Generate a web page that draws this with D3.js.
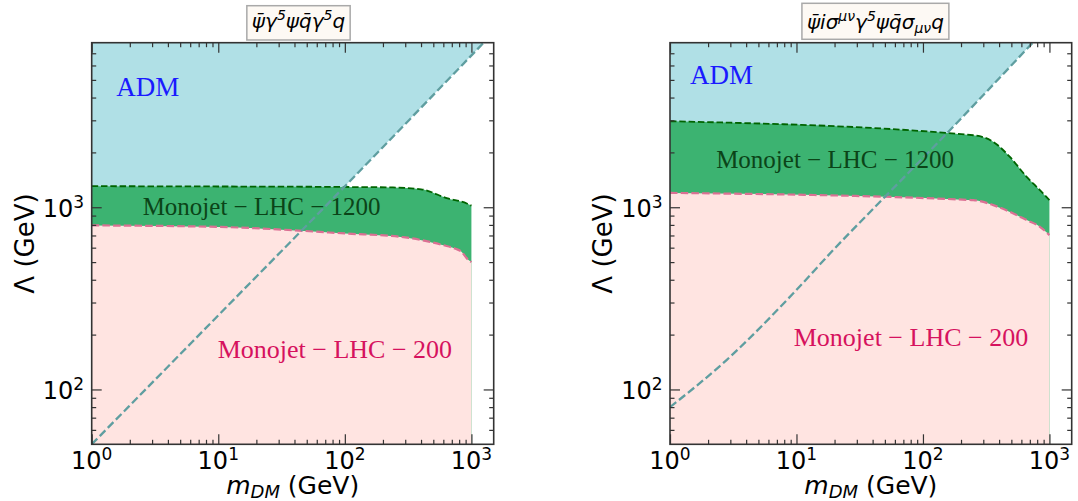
<!DOCTYPE html>
<html>
<head>
<meta charset="utf-8">
<script src="https://cdn.jsdelivr.net/npm/d3@7"></script>
<style>
  body { margin: 0; background: #fff; }
</style>
</head>
<body>
<div id="wrapper"></div>
<script>
// values

const massTicks = [1, 10, 100, 1000]
const massTickExponents = ["0", "1", "2", "3"]
const massMinorTicks = [2, 3, 4, 5, 6, 7, 8, 9, 20, 30, 40, 50, 60, 70, 80, 90, 200, 300, 400, 500, 600, 700, 800, 900]
const lambdaTicks = [100, 1000]
const lambdaTickExponents = ["2", "3"]
const lambdaMinorTicks = [60, 70, 80, 90, 200, 300, 400, 500, 600, 700, 800, 900, 2000, 3000, 4000, 5000, 6000, 7000]

// left panel
const admLeftMass = [1, 10, 69, 1250]
const admLeftLambda = [50, 255, 1000, 8000]
const lhc1200LeftMass = [1, 10, 100, 240, 400, 650, 920, 1000]
const lhc1200LeftLambda = [1305, 1300, 1292, 1284, 1255, 1118, 1049, 1020]
const lhc200LeftMass = [1, 10, 100, 300, 600, 740, 835, 920, 1000]
const lhc200LeftLambda = [795, 780, 718, 683, 619, 594, 570, 524, 500]

// right panel
const admRightMass = [1, 2.8, 9.4, 19.5, 50, 154, 737]
const admRightLambda = [80, 145, 336, 582, 1140, 2540, 8000]
const lhc1200RightMass = [1, 250, 360, 487, 661, 841, 1000]
const lhc1200RightLambda = [2965, 2484, 2285, 1888, 1468, 1241, 1094]
const lhc200RightMass = [1, 250, 360, 487, 661, 841, 1000]
const lhc200RightLambda = [1199, 1094, 1027, 943, 850, 781, 703]

// titles, pieces are [text, kind]
const leftTitle = [["ψ̄γ", ""], ["5", "sup"], ["ψq̄γ", ""], ["5", "sup"], ["q", ""]]
const rightTitle = [["ψ̄iσ", ""], ["μν", "sup"], ["γ", ""], ["5", "sup"], ["ψq̄σ", ""], ["μν", "sub"], ["q", ""]]

const zip = (xs, ys) => xs.map((x, i) => ({m: x, lambda: ys[i]}))

const width = 1078
const height = 501

const wrapper = d3.select("#wrapper").append("svg")
    .attr("width", width)
    .attr("height", height)
    .style("font-family", "'DejaVu Sans', sans-serif")

function drawPanel(cfg) {
    const xScale = d3.scaleLog()
        .domain([1, 1500])
        .range([cfg.left, cfg.right])
    const yScale = d3.scaleLog()
        .domain([50, 8000])
        .range([cfg.bottom, cfg.top])

    const xAccessor = d => xScale(d.m)
    const yAccessor = d => yScale(d.lambda)

    const clipId = "clip-" + cfg.id
    wrapper.append("clipPath").attr("id", clipId)
        .append("rect")
        .attr("x", cfg.left).attr("y", cfg.top)
        .attr("width", cfg.right - cfg.left)
        .attr("height", cfg.bottom - cfg.top)

    const bounds = wrapper.append("g").attr("clip-path", `url(#${clipId})`)

    const adm = zip(cfg.admMass, cfg.admLambda)
    const lhc1200 = zip(cfg.lhc1200Mass, cfg.lhc1200Lambda)
    const lhc200 = zip(cfg.lhc200Mass, cfg.lhc200Lambda)

    // ADM region above the relic line
    bounds.append("path")
        .attr("d", d3.area().x(xAccessor).y0(cfg.top).y1(yAccessor)(adm))
        .attr("fill", "#b0e0e6")

    // 1200 reach, drawn down to the floor, the 200 fill covers the lower part
    const curve = d3.curveMonotoneX
    bounds.append("path")
        .attr("d", d3.area().curve(curve).x(xAccessor).y0(cfg.bottom).y1(yAccessor)(lhc1200))
        .attr("fill", "#3cb371")

    bounds.append("path")
        .attr("d", d3.area().curve(curve).x(xAccessor).y0(cfg.bottom).y1(yAccessor)(lhc200))
        .attr("fill", "#ffe4e1")

    bounds.append("path")
        .attr("d", d3.line().curve(curve).x(xAccessor).y(yAccessor)(lhc1200))
        .attr("fill", "none")
        .attr("stroke", "#006400")
        .attr("stroke-width", 1.8)
        .attr("stroke-dasharray", "6.5,2.8")

    bounds.append("path")
        .attr("d", d3.line().curve(curve).x(xAccessor).y(yAccessor)(lhc200))
        .attr("fill", "none")
        .attr("stroke", "#db7093")
        .attr("stroke-width", 2.2)
        .attr("stroke-dasharray", "7.5,3.2")

    bounds.append("path")
        .attr("d", d3.line().curve(curve).x(xAccessor).y(yAccessor)(adm))
        .attr("fill", "none")
        .attr("stroke", "#5f9ea0")
        .attr("stroke-width", 2.3)
        .attr("stroke-dasharray", "8,3.5")

    // region labels
    const labels = wrapper.append("g").style("font-family", "'Liberation Serif', 'DejaVu Serif', serif")
    labels.append("text")
        .attr("x", xScale(cfg.admLabel[0])).attr("y", yScale(cfg.admLabel[1]))
        .attr("fill", "#1a1aff")
        .style("font-size", "27px")
        .text("ADM")
    labels.append("text")
        .attr("x", xScale(cfg.label1200[0])).attr("y", yScale(cfg.label1200[1]))
        .attr("text-anchor", "middle")
        .attr("fill", "#0b4418")
        .style("font-size", "25px")
        .text("Monojet − LHC − 1200")
    labels.append("text")
        .attr("x", xScale(cfg.label200[0])).attr("y", yScale(cfg.label200[1]))
        .attr("text-anchor", "middle")
        .attr("fill", "#d6125e")
        .style("font-size", "26px")
        .text("Monojet − LHC − 200")

    // axes, ticks pointing inward on all four sides
    const axes = wrapper.append("g")
    const axisSet = [
        [d3.axisBottom(xScale), massTicks, massMinorTicks, `translate(0,${cfg.bottom})`],
        [d3.axisTop(xScale), massTicks, massMinorTicks, `translate(0,${cfg.top})`],
        [d3.axisLeft(yScale), lambdaTicks, lambdaMinorTicks, `translate(${cfg.left},0)`],
        [d3.axisRight(yScale), lambdaTicks, lambdaMinorTicks, `translate(${cfg.right},0)`],
    ]
    axisSet.forEach(([gen, major, minor, tr]) => {
        axes.append("g").attr("transform", tr)
            .call(gen.tickValues(minor).tickSize(-4.5).tickSizeOuter(0).tickFormat(""))
            .call(g => g.select(".domain").remove())
        axes.append("g").attr("transform", tr)
            .call(gen.tickValues(major).tickSize(-10).tickSizeOuter(0).tickFormat(""))
            .call(g => g.select(".domain").remove())
    })
    axes.selectAll(".tick line").attr("stroke", "#333").attr("stroke-width", 1.2)

    axes.append("rect")
        .attr("x", cfg.left).attr("y", cfg.top)
        .attr("width", cfg.right - cfg.left)
        .attr("height", cfg.bottom - cfg.top)
        .attr("fill", "none")
        .attr("stroke", "#333")
        .attr("stroke-width", 1.6)

    // tick labels as 10 with a superscript exponent
    const powerLabel = (sel, exp) => {
        sel.append("tspan").text("10")
        sel.append("tspan").attr("dy", -9).style("font-size", "17px").text(exp)
    }
    massTicks.forEach((m, i) => {
        axes.append("text")
            .attr("x", xScale(m)).attr("y", cfg.bottom + 24.5)
            .attr("text-anchor", "middle")
            .style("font-size", "24px")
            .call(powerLabel, massTickExponents[i])
    })
    lambdaTicks.forEach((l, i) => {
        axes.append("text")
            .attr("x", cfg.left - 7.5).attr("y", yScale(l) + 9.6)
            .attr("text-anchor", "end")
            .style("font-size", "24px")
            .call(powerLabel, lambdaTickExponents[i])
    })

    // axis titles
    const xLabel = axes.append("text")
        .attr("x", (cfg.left + cfg.right) / 2).attr("y", 493.5)
        .attr("text-anchor", "middle")
        .style("font-size", "25px")
    xLabel.append("tspan").style("font-style", "italic").text("m")
    xLabel.append("tspan").attr("dy", 4).style("font-style", "italic").style("font-size", "18px").text("DM")
    xLabel.append("tspan").attr("dy", -4).text(" (GeV)")

    axes.append("text")
        .attr("transform", `translate(${cfg.left - 58},${(cfg.top + cfg.bottom) / 2}) rotate(-90)`)
        .attr("text-anchor", "middle")
        .style("font-size", "26px")
        .text("Λ (GeV)")

    // boxed title
    const titleGroup = wrapper.append("g")
    const title = titleGroup.append("text")
        .attr("x", cfg.titleX).attr("y", cfg.titleY)
        .attr("text-anchor", "middle")
        .style("font-size", "20px")
        .style("font-style", "italic")
    cfg.title.forEach(([t, kind]) => {
        const span = title.append("tspan").text(t)
        if (kind == "sup") span.attr("dy", -8).style("font-size", "14px")
        if (kind == "sub") span.attr("dy", 4).style("font-size", "14px")
        span.attr("data-kind", kind)
    })
    // put the baseline back after shifted pieces
    title.selectAll("tspan").each(function(d, i, nodes) {
        const prev = i > 0 ? nodes[i - 1].getAttribute("data-kind") : ""
        const kind = this.getAttribute("data-kind")
        if (kind == "" && prev == "sup") d3.select(this).attr("dy", 8)
        if (kind == "" && prev == "sub") d3.select(this).attr("dy", -4)
    })
    const box = title.node().getBBox()
    titleGroup.insert("rect", "text")
        .attr("x", box.x - 5).attr("y", cfg.boxTop)
        .attr("width", box.width + 10)
        .attr("height", cfg.boxBottom - cfg.boxTop)
        .attr("fill", "#fdf9f4")
        .attr("stroke", "#a9a9a9")
        .attr("stroke-width", 1.5)
}

drawPanel({
    id: "left",
    left: 91.7, right: 493.7, top: 42.7, bottom: 444.3,
    admMass: admLeftMass, admLambda: admLeftLambda,
    lhc1200Mass: lhc1200LeftMass, lhc1200Lambda: lhc1200LeftLambda,
    lhc200Mass: lhc200LeftMass, lhc200Lambda: lhc200LeftLambda,
    admLabel: [1.56, 4090], label1200: [22, 905], label200: [83.4, 148],
    title: leftTitle, titleX: 298.5, titleY: 28, boxTop: 5.7, boxBottom: 40,
})

drawPanel({
    id: "right",
    left: 670, right: 1071.7, top: 42.7, bottom: 444.3,
    admMass: admRightMass, admLambda: admRightLambda,
    lhc1200Mass: lhc1200RightMass, lhc1200Lambda: lhc1200RightLambda,
    lhc200Mass: lhc200RightMass, lhc200Lambda: lhc200RightLambda,
    admLabel: [1.44, 4775], label1200: [20.2, 1645], label200: [80.4, 173],
    title: rightTitle, titleX: 875.4, titleY: 29, boxTop: 3.3, boxBottom: 39.3,
})
</script>
</body>
</html>
